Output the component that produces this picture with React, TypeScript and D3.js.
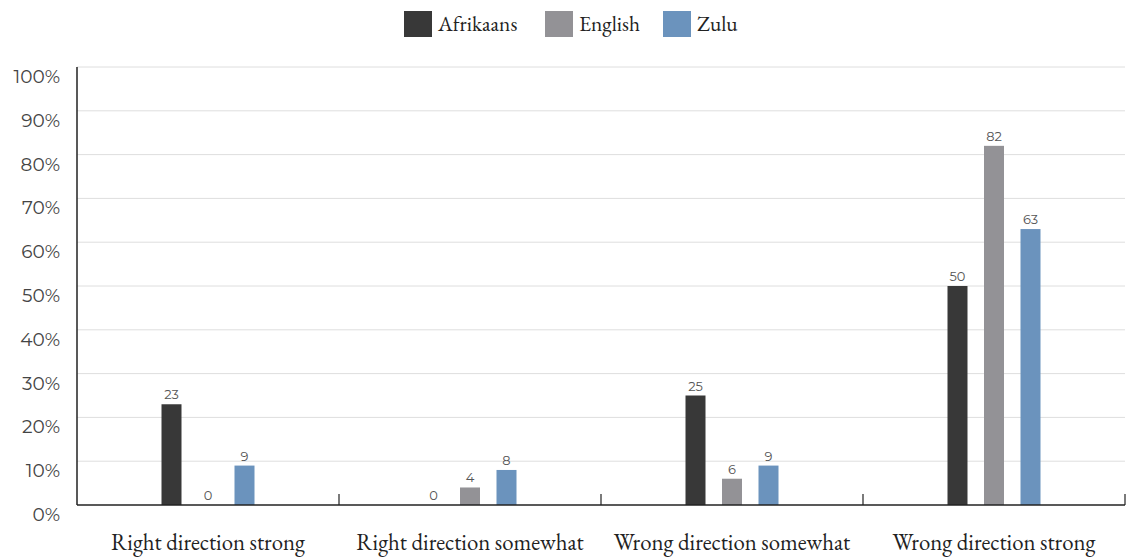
import React from "react";
import * as d3 from "d3";

const categories = ["Right direction strong", "Right direction somewhat", "Wrong direction somewhat", "Wrong direction strong"];
const seriesNames = ["Afrikaans", "English", "Zulu"];
const afrikaans = [23, 0, 25, 50];
const english = [0, 4, 6, 82];
const zulu = [9, 8, 9, 63];
const yTicks = [0, 10, 20, 30, 40, 50, 60, 70, 80, 90, 100];
const colors = ["#383838", "#939296", "#6b93bd"];

const W = 1135;
const H = 559;
const margin = { left: 77, right: 10, top: 67, bottom: 54 };
const sans = "Montserrat, 'Noto Sans', sans-serif";
const serif = "'EB Garamond', 'Liberation Serif', serif";

export default function App() {
  const values = [afrikaans, english, zulu];
  const x = d3.scaleBand<string>().domain(categories).range([margin.left, W - margin.right]);
  const y = d3.scaleLinear().domain([0, 100]).range([H - margin.bottom, margin.top]);
  const bw = 20;

  const legendX = [404, 545, 663];

  return (
    <svg width={W} height={H} style={{ position: "absolute", left: 0, top: 0 }}>
      {/* legend */}
      {seriesNames.map((s, i) => (
        <g key={s}>
          <rect x={legendX[i]} y={11} width={28} height={26} fill={colors[i]} />
          <text x={legendX[i] + 34} y={31} fontFamily={serif} fontSize={21.4} fill="#222">{s}</text>
        </g>
      ))}
      {/* grid */}
      {yTicks.map(t => (
        <g key={t}>
          {t > 0 && <line x1={margin.left} x2={W - margin.right} y1={y(t)} y2={y(t)} stroke="#dedede" strokeWidth={1} />}
          <text x={60} y={y(t) + 16} textAnchor="end" fontFamily={sans} fontSize={18.5} fill="#444">{t}%</text>
        </g>
      ))}
      {/* bars */}
      {categories.map((c, ci) => (
        <g key={c}>
          {seriesNames.map((s, si) => {
            const v = values[si][ci];
            const cx = x(c)! + x.bandwidth() / 2 + (si - 1) * 36.5;
            return (
              <g key={s}>
                {v > 0 && <rect x={cx - bw / 2} y={y(v)} width={bw} height={y(0) - y(v)} fill={colors[si]} />}
                <text x={cx} y={y(v) - 5} textAnchor="middle" fontFamily={sans} fontSize={13} fill="#555">{v}</text>
              </g>
            );
          })}
          <text x={x(c)! + x.bandwidth() / 2} y={550} textAnchor="middle" fontFamily={serif} fontSize={22.8} fill="#222">{c}</text>
        </g>
      ))}
      {/* axes */}
      <line x1={margin.left} x2={margin.left} y1={margin.top} y2={y(0)} stroke="#222" strokeWidth={1.5} />
      <line x1={margin.left} x2={W - margin.right} y1={y(0)} y2={y(0)} stroke="#222" strokeWidth={1.5} />
      {categories.map(c => (
        <line key={c} x1={x(c)! + x.bandwidth()} x2={x(c)! + x.bandwidth()} y1={y(0) - 11} y2={y(0)} stroke="#222" strokeWidth={1.2} />
      ))}
    </svg>
  );
}
